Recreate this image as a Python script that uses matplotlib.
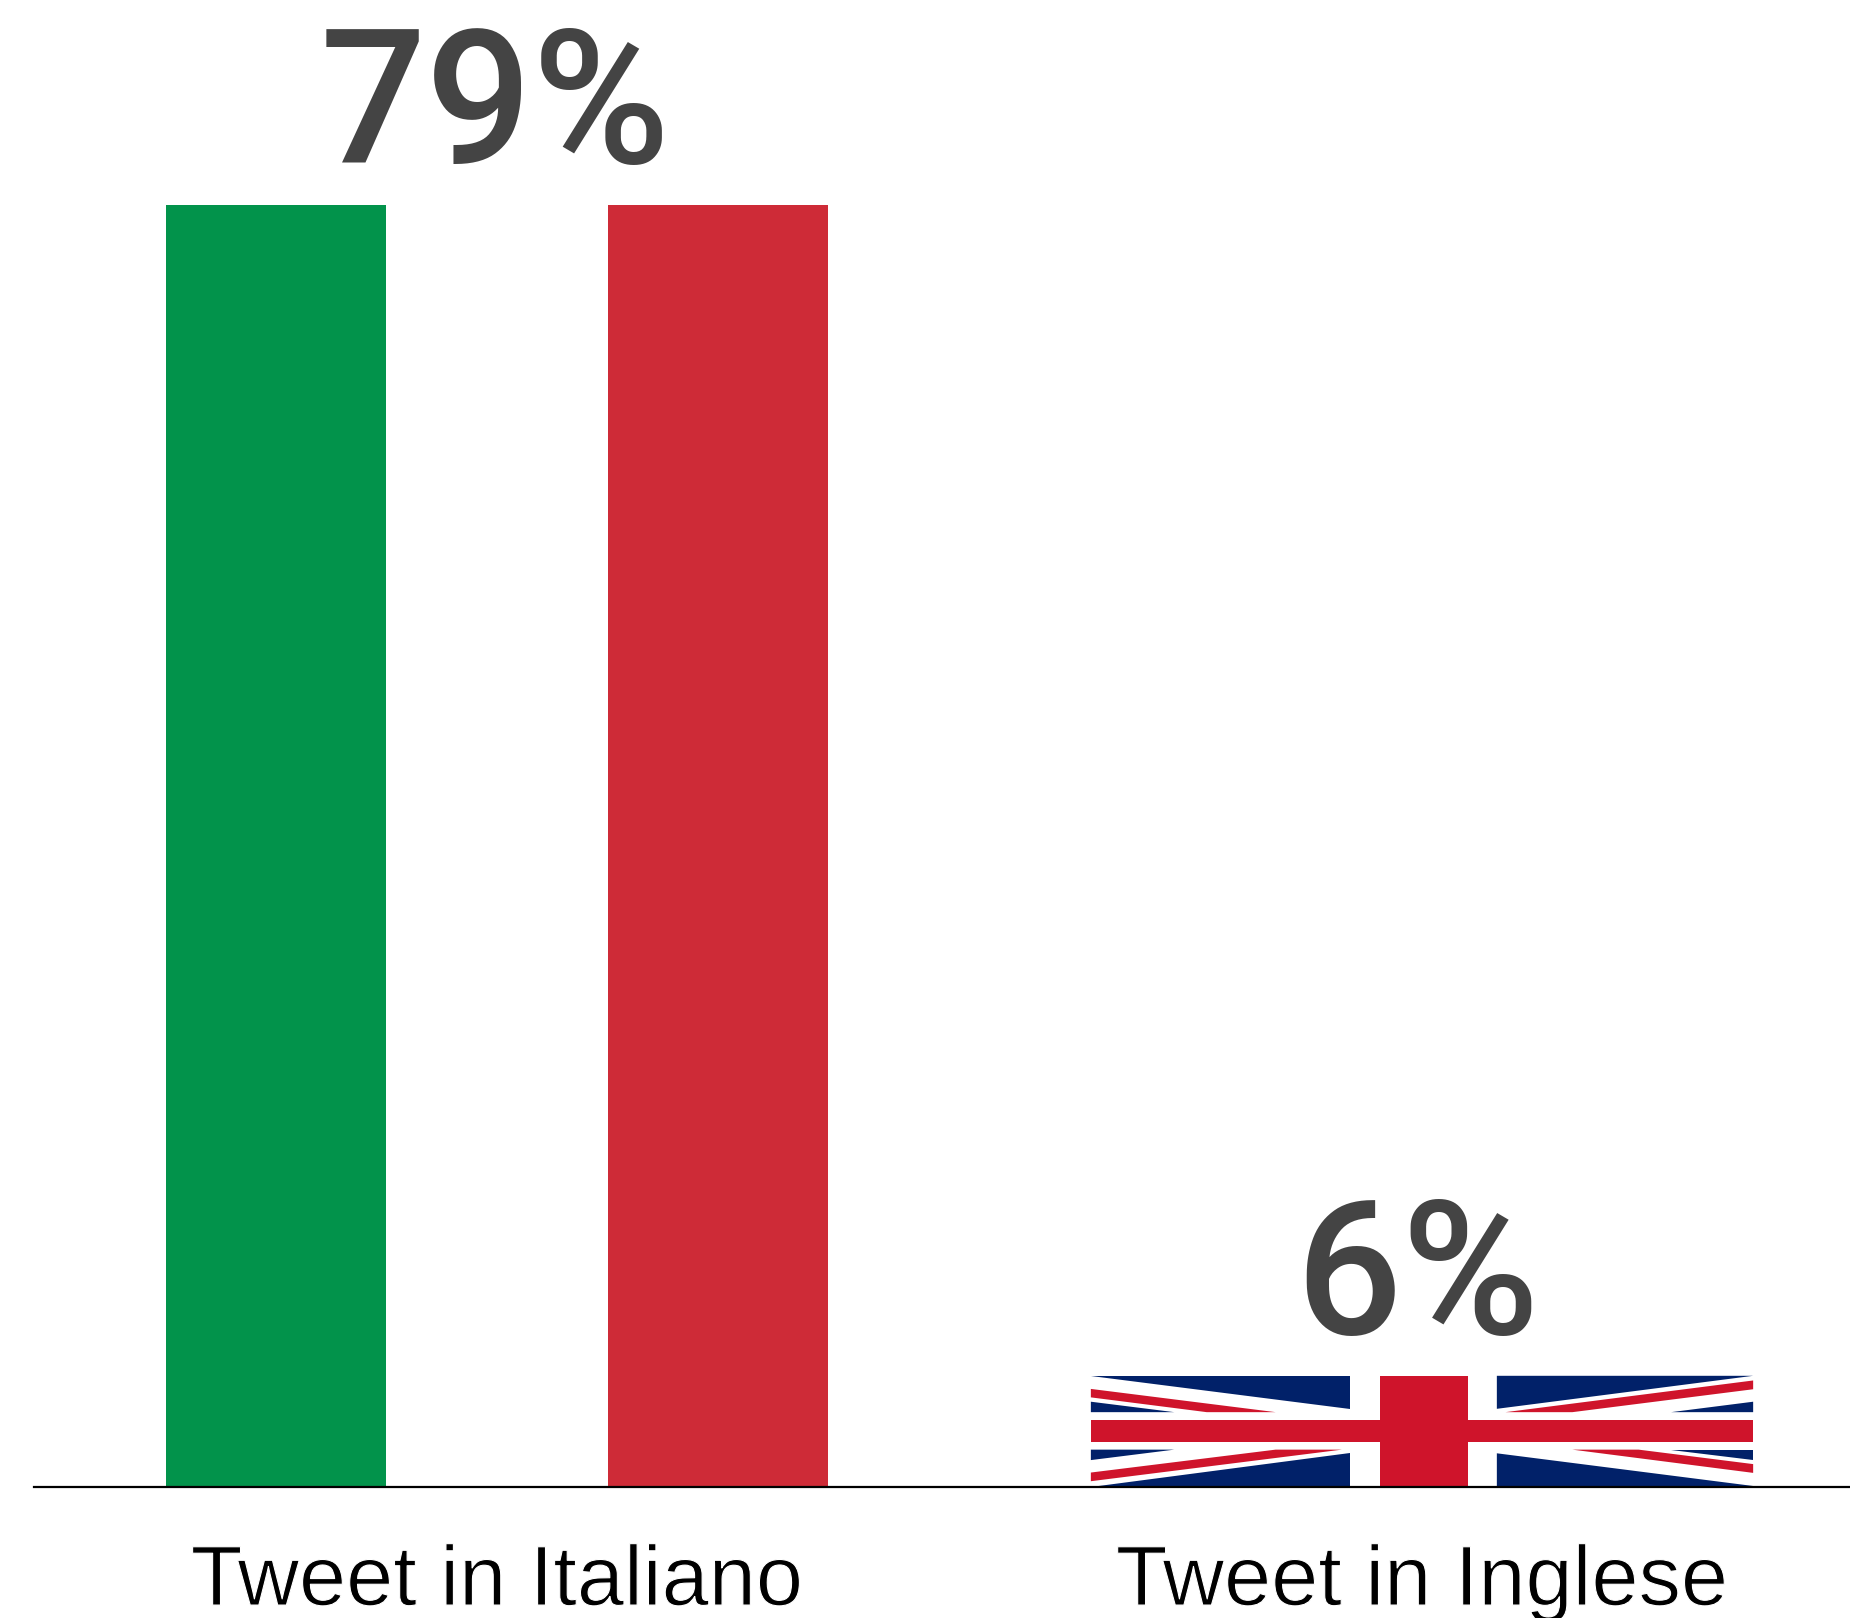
import matplotlib
matplotlib.use("Agg")
import matplotlib.pyplot as plt
import matplotlib.patheffects as pe
from matplotlib.patches import Polygon
from matplotlib.transforms import Affine2D

categories = ["Tweet in Italiano", "Tweet in Inglese"]
bar_heights = [79, 6.85]
value_labels = ["79%", "6%"]

W, H = 1850, 1618
GREEN, RED_IT = "#02934b", "#ce2b37"
BLUE_UK, RED_UK = "#012169", "#cf142b"
TEXT = "#444444"
BAR_W = 0.716

fig = plt.figure(figsize=(W / 100, H / 100), dpi=100, facecolor="white")
ax = fig.add_axes([33.5 / W, (H - 1487) / H, (W - 33.5) / W, 1487 / H])
ax.set_xlim(-0.5011, 1.4627)
ax.set_ylim(0, 91.6)
for s in ("top", "left", "right"):
    ax.spines[s].set_visible(False)
ax.spines["bottom"].set_linewidth(1.6)
ax.spines["bottom"].set_color("black")
ax.spines["bottom"].set_zorder(5)
ax.yaxis.set_visible(False)

# Italian flag: three vertical stripes
stripe = BAR_W / 3
ax.bar(0 - stripe, bar_heights[0], width=stripe * 0.995, color=GREEN, linewidth=0)
ax.bar(0 + stripe, bar_heights[0], width=stripe * 0.995, color=RED_IT, linewidth=0)

# Union Jack: a bar filled with the flag's shapes, in unit-flag fractions (top-left origin)
def draw_union_jack(ax, x, height, width):
    base = ax.bar(x, height, width=width, color="white", linewidth=0)[0]
    to_data = (Affine2D().scale(1, -1).translate(0, 1)
               .scale(width, height).translate(x - width / 2, 0)) + ax.transData
    blue = [
        [(0, 0), (.391, 0), (.391, .297)],
        [(0, .233), (.126, .327), (0, .327)],
        [(.613, 0), (1, 0), (.613, .297)],
        [(1, .233), (.876, .327), (1, .327)],
        [(.391, .697), (.391, 1), (0, 1)],
        [(0, .664), (.126, .664), (0, .758)],
        [(.613, .697), (1, .991), (1, 1), (.613, 1)],
        [(.876, .664), (1, .664), (1, .758)],
    ]
    red_diag = [
        [(0, .118), (.279, .327), (.175, .327), (0, .194)],
        [(1, .042), (.626, .327), (.727, .327), (1, .121)],
        [(0, .870), (.279, .664), (.379, .664), (0, .948)],
        [(.727, .664), (.827, .664), (1, .794), (1, .873)],
    ]
    red_cross = [
        [(.436, 0), (.569, 0), (.569, 1), (.436, 1)],
        [(0, .394), (1, .394), (1, .594), (0, .594)],
    ]
    for group, color in ((blue, BLUE_UK), (red_diag, RED_UK), (red_cross, RED_UK)):
        for pts in group:
            ax.add_patch(Polygon(pts, closed=True, facecolor=color, edgecolor="none",
                                 transform=to_data, zorder=3))
    return base

draw_union_jack(ax, 1, bar_heights[1], BAR_W)

ax.set_xticks(range(len(categories)))
ax.set_xticklabels(categories, family=["Liberation Sans"], fontsize=61, color="black", va="baseline")
ax.tick_params(axis="x", length=0, pad=85)
for t in ax.get_xticklabels():
    t.set_path_effects([pe.Stroke(linewidth=0.8, foreground="white")])

for i, (h, lab, dx) in enumerate(zip(bar_heights, value_labels, (-1.2, -3.6))):
    ax.annotate(lab, xy=(i, h), xytext=(dx, 29.9), textcoords="offset points",
                ha="center", va="baseline", family=["Roboto"], fontweight="medium",
                fontsize=135, color=TEXT, annotation_clip=False)

fig.savefig("out.png", dpi=100, facecolor="white")
